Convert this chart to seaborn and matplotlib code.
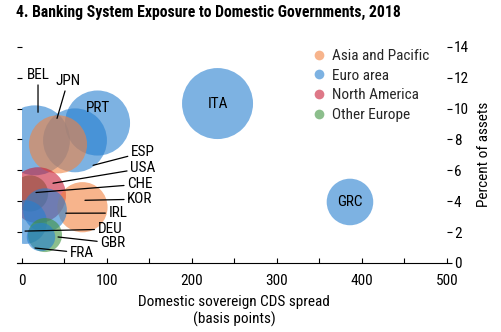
import matplotlib
matplotlib.use("Agg")
import matplotlib.pyplot as plt
from matplotlib import font_manager
from matplotlib.lines import Line2D
from matplotlib.ticker import MultipleLocator
from matplotlib.transforms import offset_copy
import seaborn as sns
import pandas as pd

# Country data: CDS spread (bp), exposure (% of assets), relative bubble size
countries = ["ITA", "BEL", "PRT", "ESP", "CHE", "JPN", "USA", "KOR",
             "GRC", "IRL", "DEU", "GBR", "FRA"]
regions = ["Euro area", "Euro area", "Euro area", "Euro area", "Other Europe",
           "Asia and Pacific", "North America", "Asia and Pacific",
           "Euro area", "Euro area", "Euro area", "Other Europe", "Euro area"]
cds_spread = [230.4, 15.6, 89.2, 62.7, 9.8, 42.7, 19.2, 71.5,
              386.2, 27.4, 3.9, 27.4, 22.7]
pct_assets = [10.32, 7.94, 9.06, 7.94, 4.50, 7.68, 4.39, 3.61,
              3.95, 3.42, 2.65, 1.81, 1.68]
bubble = [100, 97, 84, 81, 26, 67, 62, 50, 43, 38, 38, 23, 16]

region_order = ["Asia and Pacific", "Euro area", "North America", "Other Europe"]
palette = {"Asia and Pacific": "#f2823f", "Euro area": "#267fd0",
           "North America": "#c81e37", "Other Europe": "#3f933f"}

df = pd.DataFrame({"country": countries, "region": regions,
                   "cds": cds_spread, "pct": pct_assets, "bubble": bubble})

# Pick a condensed sans-serif face if one is installed
installed = {f.name for f in font_manager.fontManager.ttflist}
preferred = ["Liberation Sans Narrow", "Roboto Condensed", "Arial Narrow",
             "Asap Condensed", "Archivo Narrow", "Barlow Semi Condensed",
             "Barlow Condensed"]
narrow = next((f for f in preferred if f in installed), "DejaVu Sans")

sns.set_theme(style="white")
plt.rcParams["font.family"] = [narrow, "DejaVu Sans"]

W, H = 501, 332
fig = plt.figure(figsize=(W / 100, H / 100), dpi=100)
ax = fig.add_axes([21.7 / W, 1 - 263 / H, (446.7 - 21.7) / W, (263 - 46.7) / H])

max_area = (2 * 35.5 * 0.72) ** 2
sns.scatterplot(data=df, x="cds", y="pct", hue="region", hue_order=region_order,
                palette=palette, size="bubble", sizes=(0, max_area),
                size_norm=(0, 100), alpha=0.6, linewidth=0, legend=False, ax=ax)

ax.set_xlim(0, 500)
ax.set_ylim(0, 14)

# Label placement: text position (data) and leader-line tip offset (points) from bubble centre
label_layout = {
    "ITA": ((230.4, 10.32), None),
    "PRT": ((89.2, 10.0), None),
    "GRC": ((386.2, 3.95), None),
    "BEL": ((19.2, 12.19), (2.2, 20.2)),
    "JPN": ((54.5, 11.8), (-0.7, 18.7)),
    "ESP": ((142.7, 7.16), (13.0, -18.0)),
    "USA": ((142.7, 6.13), (10.8, 8.6)),
    "CHE": ((139.2, 5.10), (4.3, 0.7)),
    "KOR": ((139.2, 4.13), (1.8, 5.0)),
    "IRL": ((113.3, 3.23), (15.0, -2.2)),
    "DEU": ((103.9, 2.19), (0.0, -6.5)),
    "GBR": ((107.4, 1.29), (9.4, -1.4)),
    "FRA": ((70.9, 0.65), (-4.3, -7.9)),
}
FS = 11
for name, x, y in zip(countries, cds_spread, pct_assets):
    (tx, ty), tip = label_layout[name]
    if tip is None:
        ax.text(tx, ty, name, ha="center", va="center", fontsize=FS, color="black")
    else:
        tr = offset_copy(ax.transData, fig=fig, x=tip[0], y=tip[1], units="points")
        ax.annotate(name, xy=(x, y), xycoords=tr, xytext=(tx, ty), textcoords="data",
                    ha="center", va="center", fontsize=FS, color="black",
                    arrowprops=dict(arrowstyle="-", color="black", lw=0.9,
                                    shrinkA=0, shrinkB=0))

# Axes styling
for side in ["top", "left", "right"]:
    ax.spines[side].set_visible(False)
ax.spines["bottom"].set_color("black")
ax.spines["bottom"].set_linewidth(0.8)
ax.spines["bottom"].set_bounds(-6, 500)

ax.xaxis.set_major_locator(MultipleLocator(100))
ax.xaxis.set_minor_locator(MultipleLocator(50))
ax.tick_params(axis="x", which="both", direction="in", length=3.6, width=0.8,
               color="black", bottom=True, pad=8, labelsize=FS, labelcolor="black")
ax.set_yticks(range(0, 15, 2))
ax.tick_params(axis="y", which="major", direction="out", length=3.6, width=0.8,
               color="black", left=True, right=True, labelleft=False,
               labelright=True, pad=1.5, labelsize=FS, labelcolor="black")

ax.set_xlabel("Domestic sovereign CDS spread\n(basis points)", fontsize=FS,
              color="black", labelpad=5, linespacing=1.25)
ax.yaxis.set_label_position("right")
ax.set_ylabel("Percent of assets", fontsize=FS, color="black", labelpad=6)
ax.grid(False)

handles = [Line2D([0], [0], marker="o", linestyle="", markersize=7,
                  markerfacecolor=palette[r], markeredgewidth=0, alpha=0.6)
           for r in region_order]
fig.legend(handles, region_order, loc="upper left",
           bbox_to_anchor=(312 / W, 1 - 49 / H), frameon=False, fontsize=FS,
           handlelength=0.9, handletextpad=0.4, labelspacing=0.37, borderpad=0,
           borderaxespad=0)

fig.text(16 / W, 1 - 12 / H, "4. Banking System Exposure to Domestic Governments, 2018",
         fontsize=11.3, fontweight="bold", ha="left", va="center", color="black")

fig.savefig("out.png", dpi=100)
